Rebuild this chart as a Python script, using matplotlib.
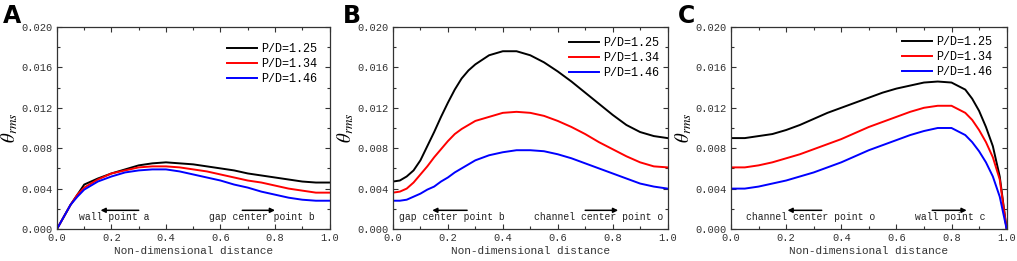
import matplotlib
matplotlib.use('Agg')
import matplotlib.pyplot as plt
from matplotlib.ticker import MultipleLocator, FormatStrFormatter

plt.rcParams['font.family'] = 'Liberation Mono'
plt.rcParams['mathtext.fontset'] = 'stix'

labels = ['P/D=1.25', 'P/D=1.34', 'P/D=1.46']
colors = ['black', 'red', 'blue']

# panel A : wall point a -> gap center point b
x_a = [0, 0.025, 0.05, 0.075, 0.1, 0.15, 0.2, 0.25, 0.3, 0.35, 0.4, 0.45, 0.5,
       0.55, 0.6, 0.65, 0.7, 0.75, 0.8, 0.85, 0.9, 0.95, 1.0]
a_125 = [0, 0.0012, 0.0024, 0.0034, 0.0044, 0.0050, 0.0055, 0.0059, 0.0063, 0.0065,
         0.0066, 0.0065, 0.0064, 0.0062, 0.0060, 0.0058, 0.0055, 0.0053, 0.0051,
         0.0049, 0.0047, 0.0046, 0.0046]
a_134 = [0, 0.0012, 0.0024, 0.0034, 0.0041, 0.0049, 0.0055, 0.0058, 0.0061, 0.0062,
         0.0062, 0.0061, 0.0059, 0.0057, 0.0054, 0.0051, 0.0048, 0.0046, 0.0043,
         0.0040, 0.0038, 0.0036, 0.0036]
a_146 = [0, 0.0012, 0.0024, 0.0032, 0.0039, 0.0047, 0.0052, 0.0056, 0.0058, 0.0059,
         0.0059, 0.0057, 0.0054, 0.0051, 0.0048, 0.0044, 0.0041, 0.0037, 0.0034,
         0.0031, 0.0029, 0.0028, 0.0028]

# panel B : gap center point b -> channel center point o
x_b = [0, 0.025, 0.05, 0.075, 0.1, 0.125, 0.15, 0.175, 0.2, 0.225, 0.25, 0.275, 0.3,
       0.35, 0.4, 0.45, 0.5, 0.55, 0.6, 0.65, 0.7, 0.75, 0.8, 0.85, 0.9, 0.95, 1.0]
b_125 = [0.0047, 0.0048, 0.0052, 0.0058, 0.0068, 0.0082, 0.0096, 0.0111, 0.0125,
         0.0138, 0.0149, 0.0157, 0.0163,
         0.0172, 0.0176, 0.0176, 0.0172, 0.0165, 0.0156, 0.0146, 0.0135, 0.0124,
         0.0113, 0.0103, 0.0096, 0.0092, 0.0090]
b_134 = [0.0036, 0.0037, 0.0040, 0.0046, 0.0054, 0.0062, 0.0071, 0.0079, 0.0087,
         0.0094, 0.0099, 0.0103, 0.0107,
         0.0111, 0.0115, 0.0116, 0.0115, 0.0112, 0.0107, 0.0101, 0.0094, 0.0086,
         0.0079, 0.0072, 0.0066, 0.0062, 0.0061]
b_146 = [0.0028, 0.0028, 0.0029, 0.0032, 0.0035, 0.0039, 0.0042, 0.0047, 0.0051,
         0.0056, 0.0060, 0.0064, 0.0068,
         0.0073, 0.0076, 0.0078, 0.0078, 0.0077, 0.0074, 0.0070, 0.0065, 0.0060,
         0.0055, 0.0050, 0.0045, 0.0042, 0.0040]

# panel C : channel center point o -> wall point c
x_c = [0, 0.05, 0.1, 0.15, 0.2, 0.25, 0.3, 0.35, 0.4, 0.45, 0.5, 0.55, 0.6, 0.65,
       0.7, 0.75, 0.8, 0.85, 0.875, 0.9, 0.925, 0.95, 0.975, 1.0]
c_125 = [0.0090, 0.0090, 0.0092, 0.0094, 0.0098, 0.0103, 0.0109, 0.0115, 0.0120,
         0.0125, 0.0130, 0.0135, 0.0139, 0.0142, 0.0145, 0.0146, 0.0145, 0.0138,
         0.0129, 0.0117, 0.0101, 0.0082, 0.0052, 0.0]
c_134 = [0.0061, 0.0061, 0.0063, 0.0066, 0.0070, 0.0074, 0.0079, 0.0084, 0.0089,
         0.0095, 0.0101, 0.0106, 0.0111, 0.0116, 0.0120, 0.0122, 0.0122, 0.0115,
         0.0108, 0.0098, 0.0086, 0.0071, 0.0049, 0.0]
c_146 = [0.0040, 0.0040, 0.0042, 0.0045, 0.0048, 0.0052, 0.0056, 0.0061, 0.0066,
         0.0072, 0.0078, 0.0083, 0.0088, 0.0093, 0.0097, 0.0100, 0.0100, 0.0093,
         0.0086, 0.0077, 0.0066, 0.0052, 0.0032, 0.0]

panels = [
    ('A', x_a, [a_125, a_134, a_146],
     [('wall point a', 0.21, 0.30, 0.16), ('gap center point b', 0.752, 0.68, 0.80)],
     (0.056, 0.268), (0.956, 0.921), 0.003),
    ('B', x_b, [b_125, b_134, b_146],
     [('gap center point b', 0.214, 0.27, 0.143), ('channel center point o', 0.75, 0.70, 0.82)],
     (0.3864, 0.270), (0.971, 0.95), 0.337),
    ('C', x_c, [c_125, c_134, c_146],
     [('channel center point o', 0.29, 0.329, 0.205), ('wall point c', 0.795, 0.73, 0.855)],
     (0.7188, 0.271), (0.949, 0.955), 0.667),
]

fig = plt.figure(figsize=(10.17, 2.61), dpi=100)

for letter, x, ys, notes, (left, width), leg_pos, lx in panels:
    ax = fig.add_axes([left, 0.1226, width, 0.774])
    for y, c, lab in zip(ys, colors, labels):
        ax.plot(x, y, color=c, lw=1.4, label=lab, solid_joinstyle='round')

    ax.set_xlim(0, 1.0)
    ax.set_ylim(0, 0.020)
    ax.xaxis.set_major_locator(MultipleLocator(0.2))
    ax.xaxis.set_minor_locator(MultipleLocator(0.1))
    ax.yaxis.set_major_locator(MultipleLocator(0.004))
    ax.yaxis.set_minor_locator(MultipleLocator(0.002))
    ax.xaxis.set_major_formatter(FormatStrFormatter('%.1f'))
    ax.yaxis.set_major_formatter(FormatStrFormatter('%.3f'))
    ax.tick_params(which='both', direction='in', top=True, right=True,
                   labelsize=7.5, colors='#333333', width=0.8)
    ax.tick_params(which='major', length=3.5, pad=3)
    ax.tick_params(which='minor', length=2)
    for s in ax.spines.values():
        s.set_linewidth(0.9)
        s.set_color('#333333')

    ax.set_xlabel('Non-dimensional distance', fontsize=8, labelpad=2, color='#333333')
    ax.set_ylabel(r'$\theta_{rms}$', fontsize=13.5)
    ax.yaxis.set_label_coords(-0.135, 0.5)

    ax.legend(frameon=False, loc='upper right', bbox_to_anchor=leg_pos,
              fontsize=8.5, handlelength=2.5, handletextpad=0.4,
              labelspacing=0.25, borderpad=0, borderaxespad=0)

    for txt, tx, tail, tip in notes:
        ax.text(tx, 0.00115, txt, fontsize=7, ha='center', va='center', color='#222222')
        ax.annotate('', xy=(tip, 0.00185), xytext=(tail, 0.00185),
                    arrowprops=dict(arrowstyle='-|>', color='black', lw=1.1,
                                    mutation_scale=7, shrinkA=0, shrinkB=0))

    fig.text(lx, 0.985, letter, fontsize=17, fontweight='bold',
             family='DejaVu Sans', ha='left', va='top')

fig.savefig('out.png', dpi=100)
